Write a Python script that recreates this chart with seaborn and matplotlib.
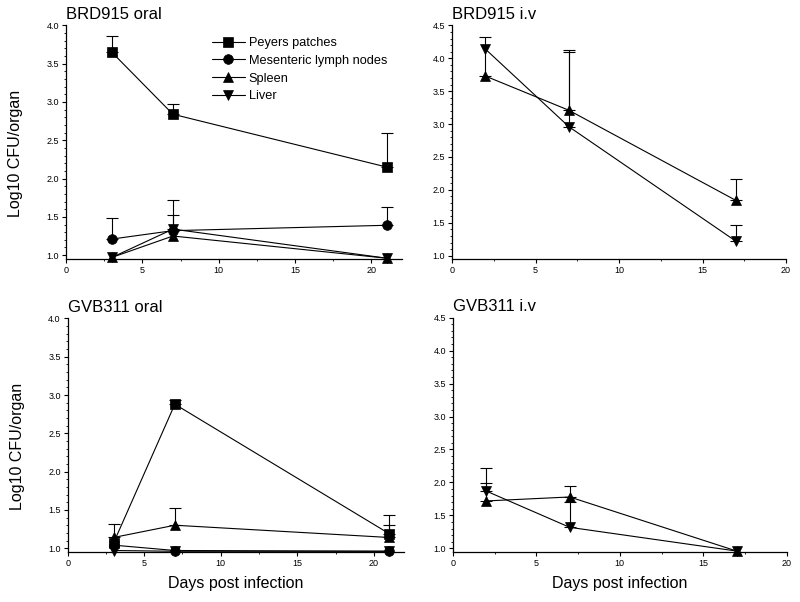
import numpy as np
import pandas as pd
import matplotlib
matplotlib.use("Agg")
import matplotlib.pyplot as plt
import seaborn as sns
from matplotlib.ticker import MultipleLocator, FormatStrFormatter

# organs and marker shapes
organs = ["Peyers patches", "Mesenteric lymph nodes", "Spleen", "Liver"]
organ_markers = {"Peyers patches": "s", "Mesenteric lymph nodes": "o",
                 "Spleen": "^", "Liver": "v"}

oral_days = [3, 7, 21]
iv_days = [2, 7, 17]

# BRD915 oral
brd_oral_peyers = [3.65, 2.84, 2.15]
brd_oral_peyers_err = [0.21, 0.13, 0.45]
brd_oral_mln = [1.21, 1.32, 1.39]
brd_oral_mln_err = [0.27, 0.40, 0.24]
brd_oral_spleen = [0.97, 1.25, 0.96]
brd_oral_spleen_err = [0.0, 0.0, 0.0]
brd_oral_liver = [0.97, 1.34, 0.96]
brd_oral_liver_err = [0.0, 0.18, 0.0]

# BRD915 i.v
brd_iv_spleen = [3.73, 3.21, 1.84]
brd_iv_spleen_err = [0.60, 0.88, 0.33]
brd_iv_liver = [4.14, 2.96, 1.22]
brd_iv_liver_err = [0.0, 1.16, 0.24]

# GVB311 oral
gvb_oral_peyers = [1.07, 2.88, 1.19]
gvb_oral_peyers_err = [0.0, 0.06, 0.25]
gvb_oral_mln = [1.04, 0.97, 0.96]
gvb_oral_mln_err = [0.0, 0.0, 0.0]
gvb_oral_spleen = [1.14, 1.30, 1.14]
gvb_oral_spleen_err = [0.18, 0.23, 0.16]
gvb_oral_liver = [0.97, 0.96, 0.96]
gvb_oral_liver_err = [0.0, 0.0, 0.0]

# GVB311 i.v
gvb_iv_spleen = [1.72, 1.78, 0.96]
gvb_iv_spleen_err = [0.27, 0.17, 0.0]
gvb_iv_liver = [1.87, 1.32, 0.96]
gvb_iv_liver_err = [0.35, 0.38, 0.0]


def make_df(days, series):
    rows = []
    for organ, (vals, errs) in series.items():
        for d, v, e in zip(days, vals, errs):
            rows.append({"organ": organ, "day": d, "log_cfu": v, "err": e})
    return pd.DataFrame(rows)


panels = [
    ("BRD915 oral", make_df(oral_days, {
        "Peyers patches": (brd_oral_peyers, brd_oral_peyers_err),
        "Mesenteric lymph nodes": (brd_oral_mln, brd_oral_mln_err),
        "Spleen": (brd_oral_spleen, brd_oral_spleen_err),
        "Liver": (brd_oral_liver, brd_oral_liver_err)}),
     [0.0825, 0.5698, 0.42, 0.388], 22, 4.0, True),
    ("BRD915 i.v", make_df(iv_days, {
        "Spleen": (brd_iv_spleen, brd_iv_spleen_err),
        "Liver": (brd_iv_liver, brd_iv_liver_err)}),
     [0.565, 0.5698, 0.4175, 0.388], 20, 4.5, False),
    ("GVB311 oral", make_df(oral_days, {
        "Peyers patches": (gvb_oral_peyers, gvb_oral_peyers_err),
        "Mesenteric lymph nodes": (gvb_oral_mln, gvb_oral_mln_err),
        "Spleen": (gvb_oral_spleen, gvb_oral_spleen_err),
        "Liver": (gvb_oral_liver, gvb_oral_liver_err)}),
     [0.0846, 0.083, 0.421, 0.388], 22, 4.0, False),
    ("GVB311 i.v", make_df(iv_days, {
        "Spleen": (gvb_iv_spleen, gvb_iv_spleen_err),
        "Liver": (gvb_iv_liver, gvb_iv_liver_err)}),
     [0.566, 0.0835, 0.4175, 0.389], 20, 4.5, False),
]

sns.set_style("ticks")
plt.rcParams["font.family"] = ["Liberation Sans", "DejaVu Sans"]
plt.rcParams["text.color"] = "black"
plt.rcParams["axes.labelcolor"] = "black"
plt.rcParams["xtick.color"] = "black"
plt.rcParams["ytick.color"] = "black"

fig = plt.figure(figsize=(8, 6.02), dpi=100)

for i, (title, df, rect, xmax, ymax, show_legend) in enumerate(panels):
    ax = fig.add_axes(rect)
    present = [o for o in organs if o in df["organ"].unique()]

    # one-sided (upper) error bars
    for organ, grp in df.groupby("organ"):
        grp = grp[grp["err"] > 0]
        if len(grp) == 0:
            continue
        ax.errorbar(grp["day"], grp["log_cfu"],
                    yerr=[np.zeros(len(grp)), grp["err"]],
                    fmt="none", ecolor="black", elinewidth=0.8,
                    capsize=4, capthick=0.8, zorder=2)

    sns.lineplot(data=df, x="day", y="log_cfu", style="organ",
                 style_order=present, markers=organ_markers, dashes=False,
                 color="black", markersize=7, markeredgecolor="black",
                 markeredgewidth=0.5, linewidth=0.8, errorbar=None,
                 sort=False, legend=show_legend, ax=ax, clip_on=False,
                 zorder=3)

    ax.set_xlim(0, xmax)
    ax.set_ylim(0.95, ymax)
    ax.xaxis.set_major_locator(MultipleLocator(5))
    ax.xaxis.set_minor_locator(MultipleLocator(2.5))
    ax.yaxis.set_major_locator(MultipleLocator(0.5))
    ax.yaxis.set_minor_locator(MultipleLocator(0.1))
    ax.xaxis.set_major_formatter(FormatStrFormatter("%d"))
    ax.yaxis.set_major_formatter(FormatStrFormatter("%.1f"))
    ax.tick_params(which="major", direction="out", length=3, width=0.8,
                   labelsize=6.5, pad=2, color="black")
    ax.tick_params(which="minor", direction="out", length=1.5, width=0.6)
    sns.despine(ax=ax)
    for sp in ("left", "bottom"):
        ax.spines[sp].set_linewidth(0.9)
        ax.spines[sp].set_color("black")

    ax.text(0.0, 1.015, title, transform=ax.transAxes, fontsize=12,
            ha="left", va="bottom", color="black")

    if i % 2 == 0:
        ax.set_ylabel("Log10 CFU/organ", fontsize=11.5)
        ax.yaxis.set_label_coords(-0.128, 0.45)
    else:
        ax.set_ylabel("")
    if i >= 2:
        ax.set_xlabel("Days post infection", fontsize=11.5, labelpad=6)
    else:
        ax.set_xlabel("")

    if show_legend:
        leg = ax.get_legend()
        handles = list(leg.legend_handles)
        labels = [t.get_text() for t in leg.get_texts()]
        keep = [(h, l) for h, l in zip(handles, labels) if l in organs]
        leg.remove()
        for h, _ in keep:
            h.set_color("black")
            h.set_markeredgecolor("black")
            h.set_markerfacecolor("black")
            h.set_markersize(7)
            h.set_linewidth(0.8)
        ax.legend([h for h, _ in keep], [l for _, l in keep],
                  loc="upper left", bbox_to_anchor=(0.434, 0.95),
                  frameon=False, fontsize=9.2, handlelength=2.6,
                  handletextpad=0.3, labelspacing=0.45, borderaxespad=0,
                  borderpad=0, numpoints=1)

fig.savefig("out.png", dpi=100)
